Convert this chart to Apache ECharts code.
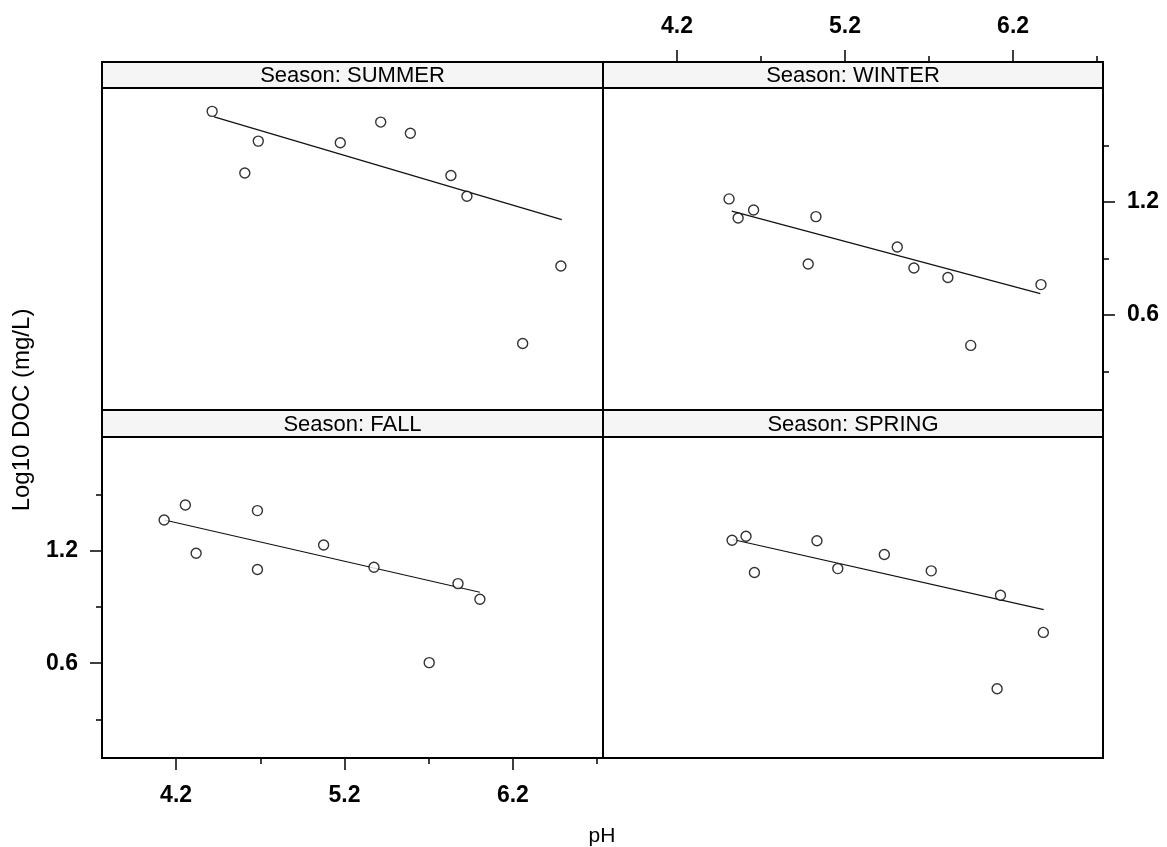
<!DOCTYPE html>
<html>
<head>
<meta charset="utf-8">
<script src="https://cdn.jsdelivr.net/npm/echarts@6/dist/echarts.min.js"></script>
<style>
  html, body { margin: 0; padding: 0; background: #fff; }
  #chart { width: 1167px; height: 847px; }
</style>
</head>
<body>
<div id="chart"></div>
<script>
// Log10 DOC (mg/L) against pH, one panel per season, with a fitted line in each.
const seasons = ['SUMMER', 'WINTER', 'FALL', 'SPRING'];

const phSummer  = [4.414, 4.688, 4.608, 5.175, 5.415, 5.591, 5.832, 5.927, 6.485, 6.258];
const docSummer = [1.681, 1.523, 1.354, 1.514, 1.624, 1.565, 1.340, 1.230, 0.860, 0.448];

const phWinter  = [4.510, 4.564, 4.656, 5.027, 4.981, 5.511, 5.610, 5.812, 5.948, 6.366];
const docWinter = [1.216, 1.115, 1.157, 1.122, 0.870, 0.961, 0.849, 0.799, 0.438, 0.761];

const phFall    = [4.129, 4.255, 4.319, 4.683, 4.683, 5.076, 5.375, 5.874, 6.004, 5.703];
const docFall   = [1.363, 1.443, 1.186, 1.413, 1.099, 1.230, 1.111, 1.024, 0.941, 0.603];

const phSpring  = [4.528, 4.611, 4.661, 5.033, 5.157, 5.434, 5.713, 6.125, 6.105, 6.380];
const docSpring = [1.255, 1.276, 1.083, 1.252, 1.104, 1.179, 1.092, 0.962, 0.464, 0.764];

// fitted line end points [pH, Log10 DOC]
const fitSummer = [[4.426, 1.652], [6.490, 1.106]];
const fitWinter = [[4.526, 1.151], [6.362, 0.713]];
const fitFall   = [[4.131, 1.363], [6.004, 0.978]];
const fitSpring = [[4.532, 1.259], [6.382, 0.885]];

// axis ticks
const phTicks       = [4.2, 5.2, 6.2];
const phMinorTicks  = [4.7, 5.7, 6.7];
const docTicks      = [0.6, 1.2];
const docMinorTicks = [0.3, 0.9, 1.5];

const X_MIN = 3.76, X_MAX = 6.735;
const Y_MIN = 0.095, Y_MAX = 1.805;

const panelPh  = [phSummer, phWinter, phFall, phSpring];
const panelDoc = [docSummer, docWinter, docFall, docSpring];
const panelFit = [fitSummer, fitWinter, fitFall, fitSpring];

// panel boxes (data area); each strip sits right above its panel
const boxes = [
  { left: 102, top: 88,  width: 501, height: 322 },
  { left: 603, top: 88,  width: 500, height: 322 },
  { left: 102, top: 437, width: 501, height: 321 },
  { left: 603, top: 437, width: 500, height: 321 }
];
const stripH = [26, 26, 27, 27];

const FONT = '"Liberation Sans", Arial, Helvetica, sans-serif';
const labelStyle = { color: '#000', fontFamily: FONT, fontSize: 23, fontWeight: 'bold' };
const fmt = v => v.toFixed(1);

function makeX(grid, o) {
  return {
    gridIndex: grid, type: 'value', min: X_MIN, max: X_MAX,
    position: o.position || 'bottom', offset: o.offset || 0,
    axisLine: { show: !!o.line, onZero: false, lineStyle: { color: '#000', width: 2 } },
    axisTick: o.ticks ? { show: true, customValues: o.ticks, length: o.tickLen, lineStyle: { color: '#000', width: 1.5 } } : { show: false },
    axisLabel: o.labels ? Object.assign({ show: true, customValues: o.labels, margin: o.margin, formatter: fmt }, labelStyle) : { show: false },
    splitLine: { show: false }
  };
}
function makeY(grid, o) {
  return {
    gridIndex: grid, type: 'value', min: Y_MIN, max: Y_MAX,
    position: o.position || 'left', offset: 0,
    axisLine: { show: !!o.line, onZero: false, lineStyle: { color: '#000', width: 2 } },
    axisTick: o.ticks ? { show: true, customValues: o.ticks, length: o.tickLen, lineStyle: { color: '#000', width: 1.5 } } : { show: false },
    axisLabel: o.labels ? Object.assign({ show: true, customValues: o.labels, margin: o.margin, formatter: fmt }, labelStyle) : { show: false },
    splitLine: { show: false }
  };
}

const grid = boxes.map(b => ({
  left: b.left, top: b.top, width: b.width, height: b.height,
  show: true, borderColor: '#000', borderWidth: 2, backgroundColor: '#fff'
}));

const xAxis = [
  makeX(0, {}),
  makeX(1, { position: 'top', offset: 26, line: true, ticks: phTicks, tickLen: 12, labels: phTicks, margin: 24 }),
  makeX(2, { position: 'bottom', line: true, ticks: phTicks, tickLen: 12, labels: phTicks, margin: 26 }),
  makeX(3, {}),
  makeX(1, { position: 'top', offset: 26, ticks: phMinorTicks, tickLen: 6 }),
  makeX(2, { position: 'bottom', ticks: phMinorTicks, tickLen: 6 })
];
const yAxis = [
  makeY(0, {}),
  makeY(1, { position: 'right', line: true, ticks: docTicks, tickLen: 12, labels: docTicks, margin: 24 }),
  makeY(2, { position: 'left', line: true, ticks: docTicks, tickLen: 12, labels: docTicks, margin: 24 }),
  makeY(3, {}),
  makeY(1, { position: 'right', ticks: docMinorTicks, tickLen: 6 }),
  makeY(2, { position: 'left', ticks: docMinorTicks, tickLen: 6 })
];

const series = [];
seasons.forEach((s, i) => {
  series.push({
    type: 'scatter', name: s, xAxisIndex: i, yAxisIndex: i,
    data: panelPh[i].map((p, k) => [p, panelDoc[i][k]]),
    symbol: 'circle', symbolSize: 10,
    itemStyle: { color: '#fff', borderColor: '#000', borderWidth: 1.4 },
    z: 3, silent: true
  });
  series.push({
    type: 'line', name: s + ' fit', xAxisIndex: i, yAxisIndex: i,
    data: panelFit[i], symbol: 'none',
    lineStyle: { color: '#111', width: 1.2 },
    z: 2, silent: true
  });
});

const graphic = [];
boxes.forEach((b, i) => {
  const h = stripH[i];
  graphic.push({
    type: 'rect', z: 5,
    shape: { x: b.left, y: b.top - h, width: b.width, height: h },
    style: { fill: '#f5f5f5', stroke: '#000', lineWidth: 2 }
  });
  graphic.push({
    type: 'text', z: 6,
    x: b.left + b.width / 2, y: b.top - h / 2 + 1,
    style: { text: 'Season: ' + seasons[i], fill: '#000', font: '22px ' + FONT, align: 'center', verticalAlign: 'middle' }
  });
});
graphic.push({
  type: 'text', z: 6, x: 602, y: 836,
  style: { text: 'pH', fill: '#000', font: '21px ' + FONT, align: 'center', verticalAlign: 'middle' }
});
graphic.push({
  type: 'text', z: 6, x: 22, y: 410, rotation: Math.PI / 2,
  style: { text: 'Log10 DOC (mg/L)', fill: '#000', font: '24px ' + FONT, align: 'center', verticalAlign: 'middle' }
});

const chart = echarts.init(document.getElementById('chart'), null, { renderer: 'canvas' });
chart.setOption({
  backgroundColor: '#fff',
  animation: false,
  grid, xAxis, yAxis, series, graphic
});
</script>
</body>
</html>
